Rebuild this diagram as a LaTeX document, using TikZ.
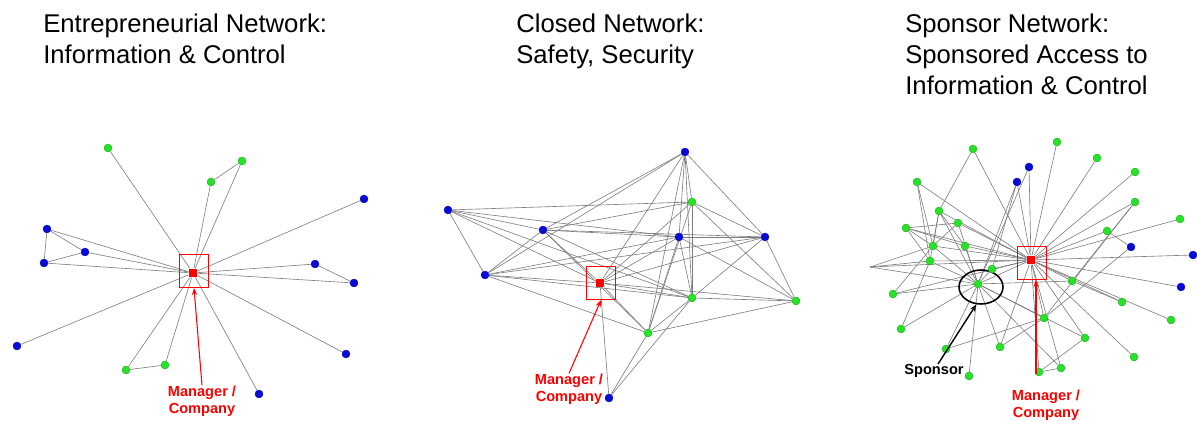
\documentclass[tikz,border=0pt]{standalone}
\usepackage{fontspec}
\setmainfont{Liberation Sans}
\usepackage{xcolor}
\usetikzlibrary{shapes.geometric,arrows.meta,backgrounds}
\definecolor{gnode}{RGB}{40,225,40}
\definecolor{bnode}{RGB}{10,10,215}
\definecolor{lgray}{RGB}{125,125,125}
\tikzset{grn/.style={circle,fill=gnode,draw=gnode!75!black,line width=0.2pt,minimum size=0.16cm,inner sep=0pt}}
\tikzset{blu/.style={circle,fill=bnode,draw=bnode!75!black,line width=0.2pt,minimum size=0.16cm,inner sep=0pt}}
\tikzset{mgr/.style={rectangle,fill=red,minimum size=0.17cm,inner sep=0pt}}
\tikzset{mbox/.style={rectangle,draw=red,line width=0.6pt,minimum width=0.58cm,minimum height=0.66cm,inner sep=0pt}}
\tikzset{lnk/.style={draw=lgray,line width=0.35pt}}
\tikzset{ttl/.style={anchor=north west,align=left,inner sep=0pt,font=\fontsize{14.6}{17.6}\selectfont}}
\tikzset{mlbl/.style={text=red,align=center,inner sep=0pt,font=\bfseries\fontsize{8.3}{9.6}\selectfont}}
\tikzset{ptr/.style={-{Stealth[length=4pt,width=3pt]},draw=red,line width=0.6pt}}

\begin{document}
\begin{tikzpicture}[x=0.02cm,y=-0.02cm]
    \useasboundingbox (0,0) rectangle (1197,421);

    % titles
    \node[ttl] (t1) at (43,14) {Entrepreneurial Network:\\Information \& Control};
    \node[ttl] (t2) at (516,14) {Closed Network:\\Safety, Security};
    \node[ttl] (t3) at (905,14) {Sponsor Network:\\Sponsored Access to\\Information \& Control};

    % entrepreneurial network
    \node[mgr] (e0) at (193,273) {};
    \node[mbox] (box1) at (194,271) {};
    \node[grn] (e1) at (108,148) {};
    \node[grn] (e2) at (242,161) {};
    \node[grn] (e3) at (211,182) {};
    \node[blu] (e4) at (364,199) {};
    \node[blu] (e5) at (47,229) {};
    \node[blu] (e6) at (85,252) {};
    \node[blu] (e7) at (44,263) {};
    \node[blu] (e8) at (315,264) {};
    \node[blu] (e9) at (354,283) {};
    \node[blu] (e10) at (17,346) {};
    \node[blu] (e11) at (346,354) {};
    \node[grn] (e12) at (126,370) {};
    \node[grn] (e13) at (165,365) {};
    \node[blu] (e14) at (259,394) {};
    \node[mlbl] (mlab1) at (202,401) {Manager /\\Company};

    \begin{scope}[on background layer]
    \draw[lnk] (e0) edge (e1) edge (e2) edge (e3) edge (e4) edge (e5) edge (e6) edge (e7)
        edge (e8) edge (e9) edge (e10) edge (e11) edge (e12) edge (e13) edge (e14);
    \draw[lnk] (e2) -- (e3);
    \draw[lnk] (e5) -- (e6);
    \draw[lnk] (e5) -- (e7);
    \draw[lnk] (e6) -- (e7);
    \draw[lnk] (e8) -- (e9);
    \draw[lnk] (e12) -- (e13);
    \end{scope}
    \draw[ptr] (mlab1.north) -- (box1.south);

    % closed network
    \node[mgr] (k0) at (600,283) {};
    \node[mbox] (box2) at (601,283) {};
    \node[blu] (k1) at (685,152) {};
    \node[grn] (k2) at (692,202) {};
    \node[blu] (k3) at (448,210) {};
    \node[blu] (k4) at (543,230) {};
    \node[blu] (k5) at (679,237) {};
    \node[blu] (k6) at (765,237) {};
    \node[blu] (k7) at (485,275) {};
    \node[grn] (k8) at (692,298) {};
    \node[grn] (k9) at (796,301) {};
    \node[grn] (k10) at (648,333) {};
    \node[blu] (k11) at (609,398) {};
    \node[mlbl] (mlab2) at (569,389) {Manager /\\Company};

    \begin{scope}[on background layer]
    \draw[lnk] (k0) edge (k1) edge (k2) edge (k3) edge (k4) edge (k5) edge (k6)
        edge (k7) edge (k8) edge (k9) edge (k10) edge (k11);
    \draw[lnk] (k1) edge (k2) edge (k4) edge (k5) edge (k6) edge (k7) edge (k8) edge (k10);
    \draw[lnk] (k2) edge (k3) edge (k4) edge (k6) edge (k8) edge (k9) edge (k10);
    \draw[lnk] (k3) edge (k4) edge (k7) edge (k8) edge (k5);
    \draw[lnk] (k4) edge (k5) edge (k6) edge (k7) edge (k8) edge (k10);
    \draw[lnk] (k5) edge (k6) edge (k7) edge (k8) edge (k9) edge (k10);
    \draw[lnk] (k6) edge (k8) edge (k9) edge (k7);
    \draw[lnk] (k7) edge (k8) edge (k10);
    \draw[lnk] (k8) edge (k9) edge (k10) edge (k11);
    \draw[lnk] (k9) -- (k10);
    \draw[lnk] (k10) -- (k11);
    \end{scope}
    \draw[ptr] (mlab2.north) -- (box2.south);

    % sponsor network
    \node[mgr] (s0) at (1031,260) {};
    \node[mbox] (box3) at (1032,263) {};
    \node[grn] (sp) at (978,284) {};
    \node[ellipse,draw=black,line width=0.9pt,minimum width=0.88cm,minimum height=0.68cm,inner sep=0pt] (spell) at (981,287) {};
    \node[grn] (s1) at (1057,142) {};
    \node[grn] (s2) at (1097,158) {};
    \node[grn] (s3) at (1135,172) {};
    \node[grn] (s4) at (1135,202) {};
    \node[grn] (s5) at (1180,219) {};
    \node[grn] (s6) at (1107,231) {};
    \node[blu] (s7) at (1131,247) {};
    \node[blu] (s8) at (1193,255) {};
    \node[blu] (s9) at (1181,287) {};
    \node[grn] (s10) at (1122,302) {};
    \node[grn] (s11) at (1171,320) {};
    \node[grn] (s12) at (1072,281) {};
    \node[grn] (s13) at (1044,318) {};
    \node[grn] (s14) at (1085,338) {};
    \node[grn] (s15) at (1134,357) {};
    \node[grn] (s16) at (1061,368) {};
    \node[grn] (s17) at (1039,372) {};
    \node[grn] (s18) at (1000,347) {};
    \node[grn] (s19) at (969,376) {};
    \node[grn] (s20) at (946,349) {};
    \node[grn] (s21) at (901,329) {};
    \node[grn] (s22) at (893,294) {};
    \node[grn] (s23) at (992,269) {};
    \node[grn] (s24) at (930,261) {};
    \node[grn] (s25) at (933,246) {};
    \node[grn] (s26) at (965,246) {};
    \node[grn] (s27) at (906,228) {};
    \node[grn] (s28) at (958,223) {};
    \node[grn] (s29) at (939,211) {};
    \node[grn] (s30) at (917,182) {};
    \node[grn] (s31) at (973,149) {};
    \node[blu] (s32) at (1017,182) {};
    \node[blu] (s33) at (1029,167) {};
    \coordinate (sl) at (870,267);
    \node[mlbl] (mlab3) at (1046,405) {Manager /\\Company};
    \node[inner sep=0pt,font=\bfseries\fontsize{8.3}{9.6}\selectfont] (slab) at (934,371) {Sponsor};
    \coordinate (mt3) at (1036,374);

    \begin{scope}[on background layer]
    \draw[lnk] (s0) edge (s1) edge (s2) edge (s3) edge (s4) edge (s5) edge (s6) edge (s8)
        edge (s9) edge (s10) edge (s11) edge (s12) edge (s13) edge (s14) edge (s15)
        edge (s16) edge (s17) edge (s18) edge (s22) edge (s23) edge (s24) edge (s25)
        edge (s26) edge (s27) edge (s28) edge (s29) edge (s30) edge (s31) edge (s32)
        edge (s33) edge (sl) edge (sp);
    \draw[lnk] (sp) edge (s12) edge (s13) edge (s14) edge (s16) edge (s18) edge (s19)
        edge (s20) edge (s21) edge (s22) edge (s23) edge (s24) edge (s25) edge (s26)
        edge (s28) edge (s29) edge (s32) edge (s33) edge (sl);
    \draw[lnk] (s6) -- (s7);
    \draw[lnk] (s4) edge (s13) edge (s12);
    \draw[lnk] (s7) -- (s13);
    \draw[lnk] (s12) -- (s10);
    \draw[lnk] (s16) -- (s17);
    \draw[lnk] (s14) -- (s17);
    \draw[lnk] (s13) edge (s18) edge (s20);
    \draw[lnk] (s30) edge (s25) edge (s24);
    \draw[lnk] (s31) -- (s29);
    \draw[lnk] (s27) edge (s26) edge (s24) edge (s28) edge (s25);
    \draw[lnk] (s29) edge (s24) edge (s25) edge (s26);
    \draw[lnk] (s28) -- (s25);
    \draw[lnk] (s22) -- (s25);
    \draw[lnk] (s21) -- (s24);
    \draw[lnk] (s24) -- (sl);
    \draw[lnk] (s25) -- (sl);
    \draw[lnk] (s23) -- (s32);
    \end{scope}
    \draw[ptr] (mt3) -- (mt3 |- box3.south);
    \draw[-{Stealth[length=4pt,width=3pt]},line width=0.8pt] (slab.60) -- (spell.255);
\end{tikzpicture}
\end{document}
